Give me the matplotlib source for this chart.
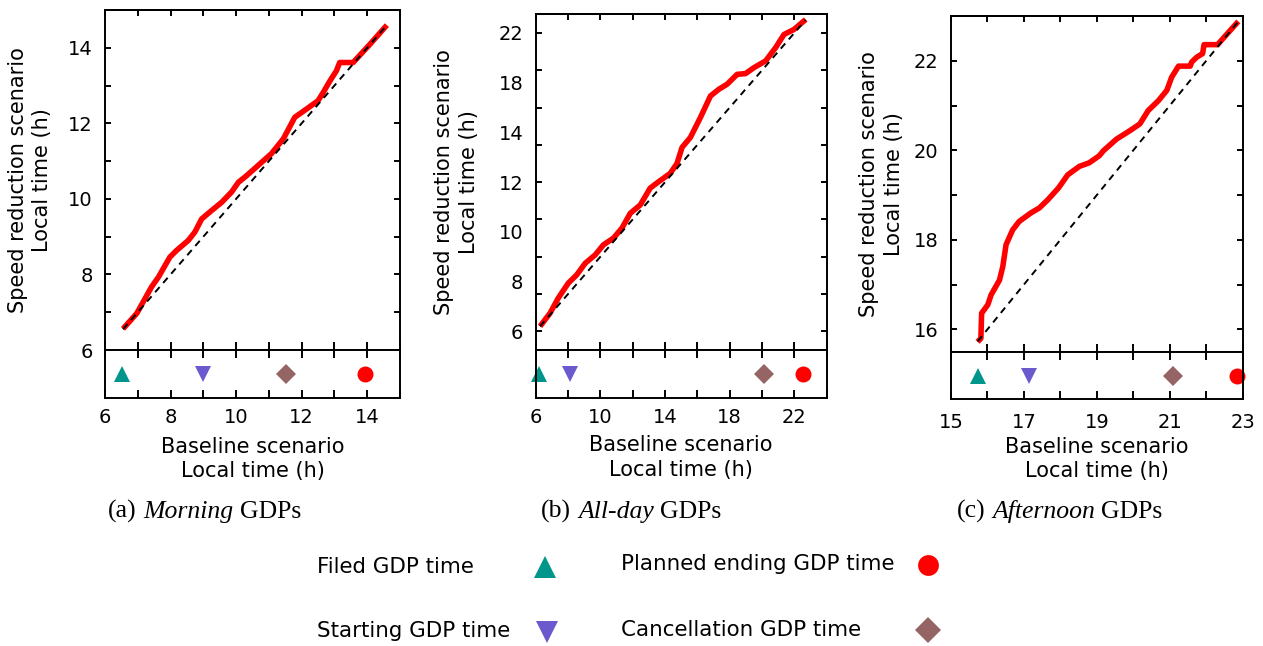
import numpy as np
import matplotlib
matplotlib.use("Agg")
import matplotlib.pyplot as plt
from matplotlib.lines import Line2D

# ---------------------------------------------------------------- data
# Arrival local time of each flight: baseline (x) vs speed-reduction (y)
morning_base = [6.55, 6.97, 7.42, 7.63, 7.98, 8.19, 8.54, 8.74, 8.95, 9.25, 9.56,
                9.86, 10.07, 10.30, 10.73, 11.08, 11.44, 11.79, 12.15, 12.50, 12.66,
                12.86, 13.06, 13.16, 13.57, 14.08, 14.60]
morning_speed = [6.56, 6.97, 7.67, 7.93, 8.46, 8.64, 8.90, 9.12, 9.47, 9.69, 9.91,
                 10.18, 10.44, 10.60, 10.93, 11.20, 11.59, 12.16, 12.38, 12.60, 12.82,
                 13.12, 13.39, 13.61, 13.61, 14.09, 14.60]

allday_base = [6.27, 6.89, 7.40, 8.02, 8.54, 9.06, 9.68, 10.19, 10.81, 11.33, 11.85,
               12.47, 13.08, 13.60, 14.32, 14.74, 15.05, 15.57, 16.19, 16.81, 17.33,
               17.84, 18.46, 18.98, 19.50, 20.22, 20.84, 21.36, 21.98, 22.70]
allday_speed = [6.27, 6.98, 7.79, 8.59, 9.03, 9.65, 10.10, 10.64, 11.00, 11.53, 12.33,
                12.78, 13.68, 14.02, 14.47, 15.00, 15.86, 16.40, 17.47, 18.62, 18.98,
                19.25, 19.78, 19.82, 20.14, 20.50, 21.21, 21.92, 22.19, 22.72]

afternoon_base = [15.73, 15.82, 15.84, 16.01, 16.10, 16.33, 16.42, 16.51, 16.69, 16.87,
                  17.19, 17.42, 17.65, 17.95, 18.20, 18.52, 18.79, 19.07, 19.18, 19.54,
                  19.91, 20.18, 20.41, 20.69, 20.92, 21.05, 21.24, 21.56, 21.60, 21.74,
                  21.90, 21.94, 22.31, 22.88]
afternoon_speed = [15.72, 15.80, 16.36, 16.55, 16.77, 17.10, 17.40, 17.89, 18.22, 18.41,
                   18.60, 18.71, 18.89, 19.16, 19.45, 19.64, 19.72, 19.88, 19.99, 20.25,
                   20.44, 20.59, 20.89, 21.11, 21.34, 21.63, 21.88, 21.88, 21.97, 22.08,
                   22.16, 22.36, 22.36, 22.88]

# GDP event times (filed, starting, cancellation, planned ending)
morning_events = [6.52, 9.00, 11.52, 13.93]
allday_events = [6.22, 8.12, 20.15, 22.54]
afternoon_events = [15.73, 17.15, 21.10, 22.85]

event_names = ["Filed GDP time", "Starting GDP time",
               "Cancellation GDP time", "Planned ending GDP time"]

# tick labels
morning_xticks = [6, 8, 10, 12, 14]
morning_yticks = [6, 8, 10, 12, 14]
allday_xticks = [6, 10, 14, 18, 22]
allday_ytick_labels = ["6", "8", "10", "12", "14", "18", "22"]
afternoon_xticks = [15, 17, 19, 21, 23]
afternoon_yticks = [16, 18, 20, 22]

captions = [("(a)", "Morning"), ("(b)", "All-day"), ("(c)", "Afternoon")]

# ---------------------------------------------------------------- styles
W, H = 1263, 646
EVENT_STYLE = [
    dict(marker="^", color="#00968c", ms=12),
    dict(marker="v", color="#6a5acd", ms=12),
    dict(marker="D", color="#956565", ms=10),
    dict(marker="o", color="#ff0000", ms=11.5),
]
SPINE_W = 1.4
TICK_FS = 14
LABEL_FS = 15

fig = plt.figure(figsize=(W / 100, H / 100), dpi=100)


def rect(x0, y0, x1, y1):
    return [x0 / W, 1 - y1 / H, (x1 - x0) / W, (y1 - y0) / H]


def fx(x):
    return x / W


def fy(y):
    return 1 - y / H


panels = [
    dict(main=(105, 10, 400, 350), strip=(105, 350, 400, 398),
         xlim=(6, 15), ylim=(6, 15), xmajor=morning_xticks, xminor=np.arange(6, 16, 1),
         ymajor=morning_yticks, yminor=np.arange(6, 16, 1),
         base=morning_base, speed=morning_speed, events=morning_events,
         ylab=(30, 180), xlab=(252.5, 459), cap=108, xpad=7),
    dict(main=(535.7, 14.3, 826.7, 350), strip=(535.7, 350, 826.7, 398),
         xlim=(6, 24), ylim=(5, 23), xmajor=allday_xticks, xminor=np.arange(6, 25, 2),
         ymajor=None, yminor=np.arange(6, 23, 2),
         base=allday_base, speed=allday_speed, events=allday_events,
         ylab=(456.7, 182), xlab=(681, 457.5), cap=541, xpad=7),
    dict(main=(951, 16, 1242.7, 351.7), strip=(951, 351.7, 1242.7, 399.3),
         xlim=(15, 23), ylim=(15.5, 23), xmajor=afternoon_xticks, xminor=np.arange(15, 24, 1),
         ymajor=afternoon_yticks, yminor=np.arange(16, 24, 1),
         base=afternoon_base, speed=afternoon_speed, events=afternoon_events,
         ylab=(881.7, 183.8), xlab=(1097, 459), cap=957, xpad=10),
]

for p in panels:
    ax = fig.add_axes(rect(*p["main"]))
    axs = fig.add_axes(rect(*p["strip"]))

    base = np.asarray(p["base"])
    speed = np.asarray(p["speed"])
    ax.plot(base, speed, color="#ff0000", lw=4, solid_joinstyle="round",
            solid_capstyle="butt", zorder=2)
    ax.plot([base[0], base[-1]], [base[0], base[-1]], color="black", lw=1.4,
            linestyle=(0, (3.5, 2.8)), zorder=3)

    ax.set_xlim(*p["xlim"])
    ax.set_ylim(*p["ylim"])
    ax.set_xticks(p["xminor"])
    ax.tick_params(axis="x", direction="in", length=6, width=SPINE_W,
                   bottom=True, top=False, labelbottom=False)
    top = ax.secondary_xaxis("top")
    top.set_xticks(p["xminor"])
    top.tick_params(direction="in", length=4, width=SPINE_W, labeltop=False)
    top.spines["top"].set_linewidth(SPINE_W)

    if p["ymajor"] is not None:
        ax.set_yticks(p["yminor"], minor=True)
        ax.set_yticks(p["ymajor"])
        ax.tick_params(axis="y", which="both", direction="in", length=4,
                       width=SPINE_W, left=True, right=True, labelsize=TICK_FS, pad=9)
    else:
        # unlabeled marks every 2 h, labels spread evenly along the axis
        ax.yaxis.remove_overlapping_locs = False
        ax.set_yticks(p["yminor"])
        ax.tick_params(axis="y", which="major", direction="in", length=4,
                       width=SPINE_W, left=True, right=True, labelleft=False)
        ax.set_yticks(np.linspace(6, 22, len(allday_ytick_labels)),
                      allday_ytick_labels, minor=True)
        ax.tick_params(axis="y", which="minor", length=0, labelsize=TICK_FS, pad=9)
    for s in ax.spines.values():
        s.set_linewidth(SPINE_W)

    # event strip
    for t, st in zip(p["events"], EVENT_STYLE):
        axs.plot([t], [0.5], linestyle="none", marker=st["marker"], ms=st["ms"],
                 color=st["color"], markeredgewidth=0, clip_on=False)
    axs.set_xlim(*p["xlim"])
    axs.set_ylim(0, 1)
    axs.set_yticks([])
    axs.set_xticks(p["xmajor"])
    axs.set_xticks(p["xminor"], minor=True)
    axs.tick_params(axis="x", which="both", direction="in", length=6, width=SPINE_W,
                    top=True, bottom=True, labelsize=TICK_FS, pad=p["xpad"])
    for s in axs.spines.values():
        s.set_linewidth(SPINE_W)

    fig.text(fx(p["ylab"][0]), fy(p["ylab"][1]),
             "Speed reduction scenario\nLocal time (h)", rotation=90,
             ha="center", va="center", fontsize=LABEL_FS, linespacing=1.3,
             multialignment="center")
    fig.text(fx(p["xlab"][0]), fy(p["xlab"][1]),
             "Baseline scenario\nLocal time (h)",
             ha="center", va="center", fontsize=LABEL_FS, linespacing=1.3,
             multialignment="center")

# captions with mixed upright / italic runs
renderer = fig.canvas.get_renderer()
for p, (tag, word) in zip(panels, captions):
    x = p["cap"]
    for text, style, gap in [(tag, "normal", 7), (word, "italic", 6), ("GDPs", "normal", 0)]:
        t = fig.text(fx(x), fy(518), text, family="Liberation Serif", style=style,
                     fontsize=18.5, ha="left", va="baseline")
        x = t.get_window_extent(renderer).x1 + gap

# legend block
legend_rows = [
    (event_names[0], 317, 567, 545, 567, 0),
    (event_names[1], 317, 631, 547, 632, 1),
    (event_names[3], 621, 564, 928, 565, 3),
    (event_names[2], 621, 630, 928, 630, 2),
]
legend_ms = [16, 16, 13.5, 15]
for name, tx, ty, mx, my, k in legend_rows:
    fig.text(fx(tx), fy(ty), name, ha="left", va="center", fontsize=15.4)
    st = EVENT_STYLE[k]
    fig.add_artist(Line2D([fx(mx)], [fy(my)], transform=fig.transFigure,
                          linestyle="none", marker=st["marker"], ms=legend_ms[k],
                          color=st["color"], markeredgewidth=0))

fig.savefig("out.png", dpi=100)
